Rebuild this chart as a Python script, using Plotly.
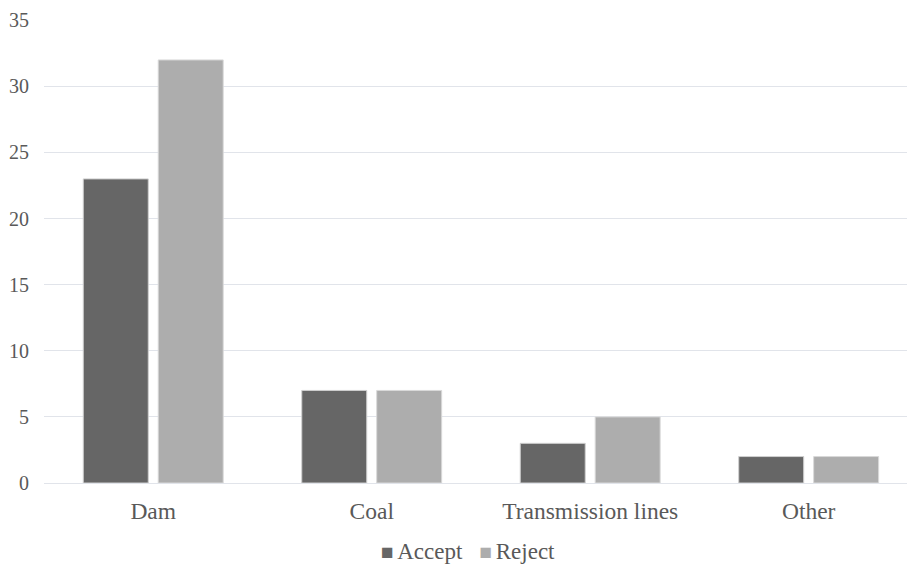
import plotly.graph_objects as go

# Project categories and response counts
categories = ["Dam", "Coal", "Transmission lines", "Other"]
accept = [23, 7, 3, 2]
reject = [32, 7, 5, 2]
y_ticks = [0, 5, 10, 15, 20, 25, 30, 35]

FONT = "'Times New Roman', 'Liberation Serif', serif"
TEXT = "#595959"
GRID = "#e1e4ea"
ACCEPT_COLOR = "#666666"
REJECT_COLOR = "#adadad"

fig = go.Figure()
fig.add_trace(go.Bar(
    name="Accept", x=categories, y=accept,
    marker=dict(color=ACCEPT_COLOR, line=dict(color="#cfcfcf", width=1)),
))
fig.add_trace(go.Bar(
    name="Reject", x=categories, y=reject,
    marker=dict(color=REJECT_COLOR, line=dict(color="#d9d9d9", width=1)),
))

# Compact legend row beneath the axis
gap = "<span style='font-size:14px'>&nbsp;</span>"
legend_text = (
    f"<span style='color:{ACCEPT_COLOR};font-size:21px'>■</span>{gap}Accept&nbsp;&nbsp;&nbsp;"
    f"<span style='color:{REJECT_COLOR};font-size:21px'>■</span>{gap}Reject"
)
fig.add_annotation(
    text=legend_text, xref="paper", yref="paper", x=0.491, y=-0.149,
    xanchor="center", yanchor="middle", showarrow=False,
    font=dict(family=FONT, size=23, color=TEXT),
)

fig.update_layout(
    width=907, height=567,
    margin=dict(l=44, r=0, t=20, b=84, autoexpand=False),
    paper_bgcolor="white", plot_bgcolor="white",
    barmode="group", bargap=0.314, bargroupgap=0.133,
    font=dict(family=FONT, color=TEXT),
    showlegend=False,
    xaxis=dict(
        range=[-0.5, 3.45], showgrid=False, zeroline=False, showline=False,
        tickfont=dict(family=FONT, size=23.5, color=TEXT), ticks="",
        ticklabelstandoff=11,
    ),
    yaxis=dict(
        range=[0, 35.02], tickvals=y_ticks, showgrid=True, gridcolor=GRID,
        gridwidth=1.3, zeroline=True, zerolinecolor=GRID, zerolinewidth=1.3,
        showline=False,
        tickfont=dict(family=FONT, size=20, color=TEXT), ticks="",
        ticklabelstandoff=14,
    ),
)

fig.write_html("out.html")
